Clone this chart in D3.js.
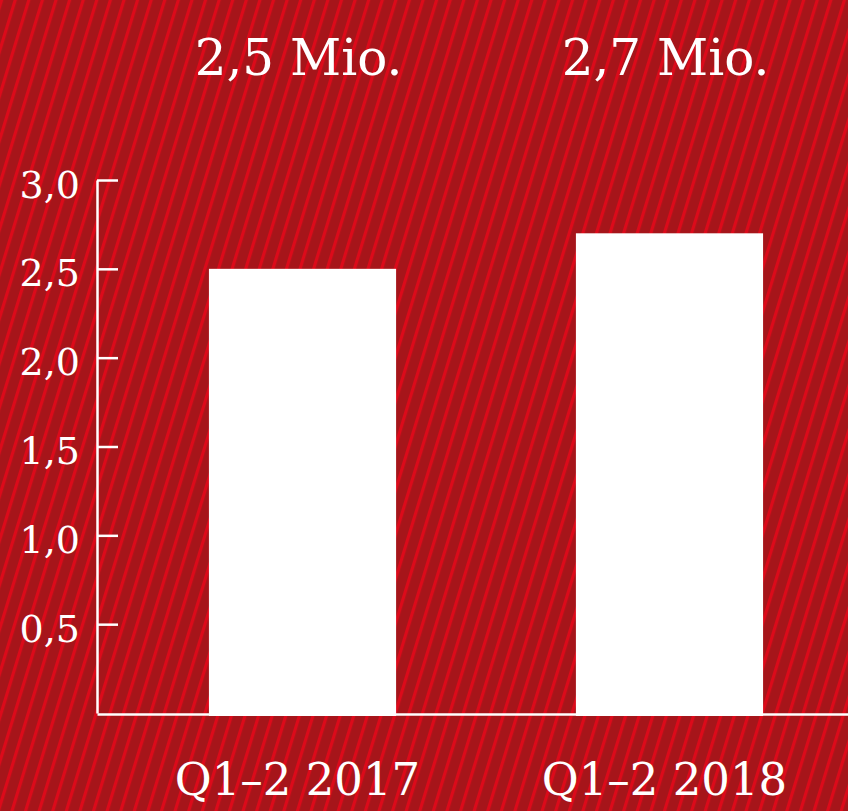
<!doctype html>
<html>
  <head>
    <meta charset="utf-8">
    <script src="https://cdn.jsdelivr.net/npm/d3@7/dist/d3.min.js"></script>
    <style>
      body { margin: 0; background: #a8161a; }
      text { font-family: "DejaVu Serif", serif; fill: #fff; }
      .axis path, .axis line { stroke: #fff; stroke-width: 2.5; }
    </style>
  </head>
  <body>
    <svg width="848" height="811"></svg>
    <script>
      var categories = ["Q1–2 2017", "Q1–2 2018"];
      var values = [2.5, 2.7];
      var valueLabels = ["2,5 Mio.", "2,7 Mio."];
      var tickValues = [0.5, 1.0, 1.5, 2.0, 2.5, 3.0];
      var tickLabels = ["0,5", "1,0", "1,5", "2,0", "2,5", "3,0"];

      var svg = d3.select("svg");

      // striped background
      var pat = svg.append("defs").append("pattern")
          .attr("id", "stripes")
          .attr("patternUnits", "userSpaceOnUse")
          .attr("width", 13)
          .attr("height", 13)
          .attr("patternTransform", "rotate(17)");
      pat.append("rect").attr("width", 13).attr("height", 13).attr("fill", "#a6151a");
      pat.append("rect").attr("x", 0).attr("width", 3.2).attr("height", 13).attr("fill", "#dc0a1a");

      svg.append("rect")
          .attr("width", 848)
          .attr("height", 811)
          .attr("fill", "url(#stripes)");

      var y = d3.scaleLinear().domain([0, 3]).range([713, 180]);
      var x = d3.scaleBand()
          .domain(categories)
          .range([97, 875])
          .paddingInner(0.49)
          .paddingOuter(0.305);

      // bars
      svg.selectAll("rect.bar")
        .data(values)
        .enter()
        .append("rect")
          .attr("class", "bar")
          .attr("x", (d, i) => x(categories[i]))
          .attr("width", x.bandwidth())
          .attr("y", d => y(d))
          .attr("height", d => y(0) - y(d) + 3)
          .attr("fill", "#fff");

      // y axis
      var yAxis = d3.axisLeft(y)
          .tickValues(tickValues)
          .tickFormat((d, i) => tickLabels[i])
          .tickSizeInner(-21)
          .tickSizeOuter(0)
          .tickPadding(17);

      var gy = svg.append("g")
          .attr("class", "axis")
          .attr("transform", "translate(97,0)")
          .call(yAxis);
      gy.selectAll("text")
          .style("font-size", "38px")
          .attr("dy", "0.45em");

      // x axis baseline
      var xAxis = d3.axisBottom(x).tickSize(0).tickSizeOuter(0).tickFormat("");
      svg.append("g")
          .attr("class", "axis")
          .attr("transform", "translate(0,714)")
          .call(xAxis);

      // category labels
      svg.selectAll("text.cat")
        .data(categories)
        .enter()
        .append("text")
          .attr("class", "cat")
          .attr("x", d => x(d) + x.bandwidth() / 2 - 5)
          .attr("y", 795)
          .attr("text-anchor", "middle")
          .style("font-size", "45px")
          .text(d => d);

      // value labels on top
      svg.selectAll("text.val")
        .data(valueLabels)
        .enter()
        .append("text")
          .attr("class", "val")
          .attr("x", (d, i) => x(categories[i]) + x.bandwidth() / 2 - 4)
          .attr("y", 75)
          .attr("text-anchor", "middle")
          .style("font-size", "50px")
          .text(d => d);
    </script>
  </body>
</html>
